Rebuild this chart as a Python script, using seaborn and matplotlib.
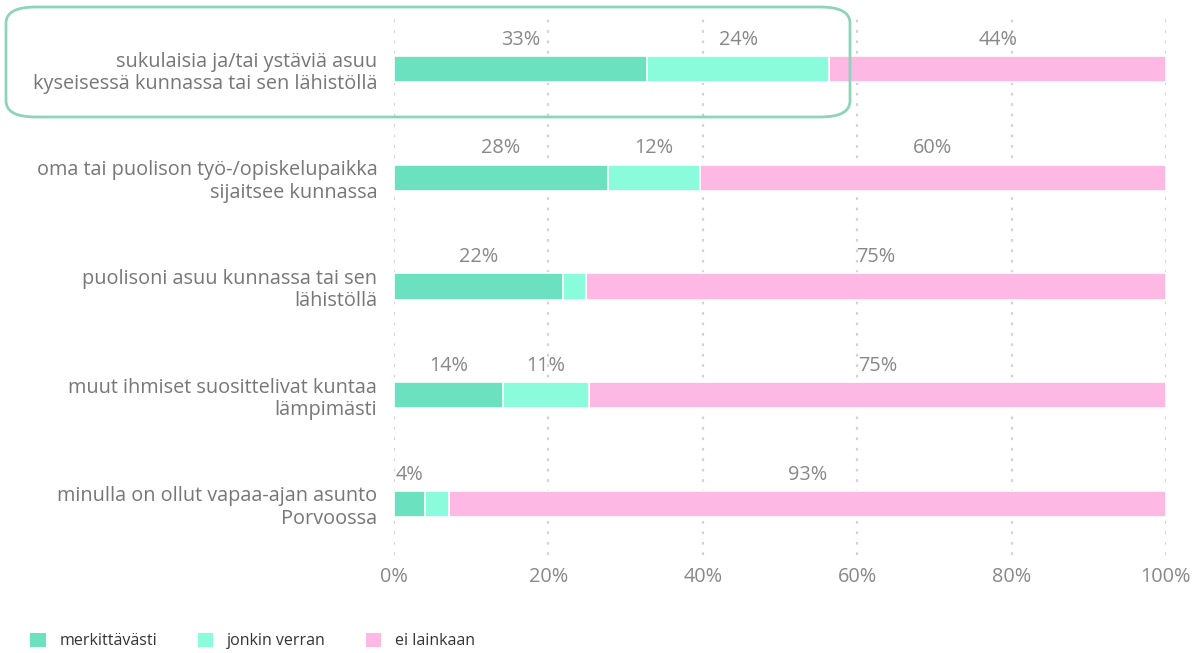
import matplotlib
matplotlib.use("Agg")
import matplotlib.pyplot as plt
from matplotlib.patches import FancyBboxPatch, Patch
import numpy as np
import pandas as pd
import seaborn as sns

categories = [
    "sukulaisia ja/tai ystäviä asuu\nkyseisessä kunnassa tai sen lähistöllä",
    "oma tai puolison työ-/opiskelupaikka\nsijaitsee kunnassa",
    "puolisoni asuu kunnassa tai sen\nlähistöllä",
    "muut ihmiset suosittelivat kuntaa\nlämpimästi",
    "minulla on ollut vapaa-ajan asunto\nPorvoossa",
]
merkittavasti = [32.8, 27.7, 21.9, 14.1, 4.0]
jonkin_verran = [23.6, 11.9, 3.0, 11.2, 3.1]
ei_lainkaan = [43.6, 60.4, 75.1, 74.7, 92.9]

series_names = ["merkittävästi", "jonkin verran", "ei lainkaan"]
colors = ["#6be1c0", "#8afcdc", "#fdb8e4"]
text_color = "#777777"
fs = 14.3

sns.set_theme(style="white")
plt.rcParams["font.family"] = ["Open Sans", "DejaVu Sans"]

df = pd.DataFrame({
    "kategoria": categories,
    "m": merkittavasti,
    "j": jonkin_verran,
    "e": ei_lainkaan,
})
df["c1"] = df["m"]
df["c2"] = df["m"] + df["j"]
df["c3"] = df["m"] + df["j"] + df["e"]

fig = plt.figure(figsize=(11.96, 6.53), dpi=100)
ax = fig.add_axes([394 / 1196, 98 / 653, 772 / 1196, 537 / 653])

bar_w = 0.24
# draw cumulative bars from the back to the front
for col, c in zip(["c3", "c2", "c1"], colors[::-1]):
    sns.barplot(data=df, x=col, y="kategoria", color=c, width=bar_w, saturation=1,
                edgecolor="white", linewidth=1.2, orient="h", ax=ax, zorder=3)

# value labels above each segment
starts = np.zeros(len(categories))
for vals in [merkittavasti, jonkin_verran, ei_lainkaan]:
    for i, v in enumerate(vals):
        if v >= 3.5:
            ax.text(starts[i] + v / 2, i - 0.27, f"{round(v):.0f}%",
                    ha="center", va="center", fontsize=fs, color="#888888")
    starts += np.array(vals)

ax.set_xlim(0, 100)
ax.set_ylim(len(categories) - 0.53, -0.47)
ax.set_xticks([0, 20, 40, 60, 80, 100])
ax.set_xticklabels([f"{t}%" for t in [0, 20, 40, 60, 80, 100]])
ax.set_xlabel("")
ax.set_ylabel("")
ax.tick_params(axis="x", length=0, pad=9, labelsize=fs, labelcolor="#888888")
ax.tick_params(axis="y", length=0, pad=12, labelsize=fs, labelcolor=text_color)
for lbl in ax.get_yticklabels():
    lbl.set_multialignment("right")
    lbl.set_linespacing(1.15)
ax.grid(axis="x", color="#d2d2d2", linestyle=(0, (1.2, 3.5)), linewidth=1.6, zorder=0)
ax.grid(axis="y", visible=False)
ax.set_axisbelow(True)
sns.despine(ax=ax, left=True, bottom=True)

# highlight box around the first row
box = FancyBboxPatch((6 / 1196, 1 - 117 / 653), 844 / 1196, 110 / 653,
                     boxstyle="round,pad=0,rounding_size=0.025",
                     transform=fig.transFigure, fill=False,
                     edgecolor="#8fd4b8", linewidth=2, mutation_aspect=653 / 1196 * 1.8)
fig.patches.append(box)

handles = [Patch(facecolor=c, edgecolor="none") for c in colors]
leg = fig.legend(handles, series_names, loc="center left",
                 bbox_to_anchor=(16 / 1196, 1 - 641 / 653), ncol=3, frameon=False,
                 handlelength=0.95, handleheight=1.0, handletextpad=0.9,
                 columnspacing=2.5, fontsize=11.5)
for t in leg.get_texts():
    t.set_color("#333333")

fig.savefig("out.png", dpi=100)
